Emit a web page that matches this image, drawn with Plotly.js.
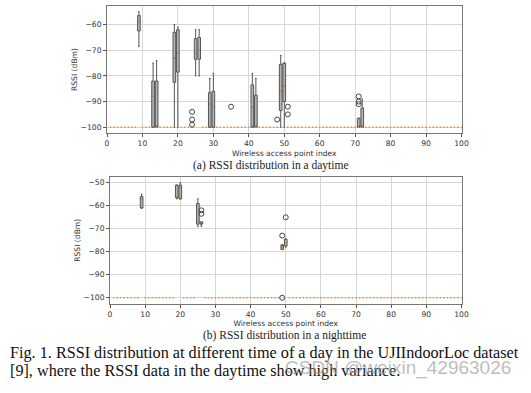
<!DOCTYPE html>
<html>
<head>
<meta charset="utf-8">
<script src="https://cdn.plot.ly/plotly-3.0.1.min.js"></script>
<style>html,body{margin:0;padding:0;background:#fff;}#chart{width:531px;height:393px;}</style>
</head>
<body>
<div id="chart"></div>
<script>
// ---- Data ----
// Wireless access point indices shown on the x axis (box positions)
const wapIndex = Array.from({length: 100}, (_, i) => i + 1);
const flatMedian = -100; // every WAP without a drawn box sits at -100 dBm

// (a) daytime: WAPs with visible spread
const dayPos   = [9, 13, 14, 19, 20, 25, 26, 29, 30, 41, 42, 49, 50, 71, 72];
const dayQ1    = [-62.5, -100, -100, -82.5, -78.5, -73.5, -73.5, -100, -100, -100, -100, -93.5, -90, -100, -100];
const dayMed   = [-59, -88, -100, -73, -71, -71, -70, -91, -92, -92, -100, -86, -84, -100, -100];
const dayQ3    = [-56.5, -82, -82, -63, -62, -65.5, -65, -86.5, -86, -83.5, -87.5, -75.5, -75, -96.5, -92.5];
const dayLow   = [-68.5, -100, -100, -100, -100, -80, -80, -100, -100, -100, -100, -100, -100, -100, -100];
const dayHigh  = [-55, -75, -74, -60, -61, -62, -62, -81, -79, -79, -81, -72, -75, -96.5, -89];
const dayOutX  = [24, 24, 24, 35, 48, 51, 51, 71, 71, 71];
const dayOutY  = [-94, -97, -99, -92, -97, -92, -95, -88, -90, -91];

// (b) nighttime
const nightPos  = [9, 19, 20, 25, 26, 49, 50];
const nightQ1   = [-61, -56.5, -57, -68, -68, -79, -77.5];
const nightMed  = [-57, -56, -52, -66.5, -67, -78, -76];
const nightQ3   = [-56, -51, -51, -59, -67, -77, -74.5];
const nightLow  = [-61, -57, -57, -69, -69, -79, -78];
const nightHigh = [-55, -51, -50, -57, -67, -77, -74.5];
const nightOutX = [26, 26, 49, 49, 50];
const nightOutY = [-62, -63.5, -73, -100, -65];

const xTicks = [0, 10, 20, 30, 40, 50, 60, 70, 80, 90, 100];

// ---- Build traces ----
function allMedians(pos, med) {
  return wapIndex.map(w => { const k = pos.indexOf(w); return k >= 0 ? med[k] : flatMedian; });
}
const ORANGE = '#f58a2e';
const BOXLINE = '#555';
function boxTrace(pos, q1, med, q3, lo, hi, xa, ya) {
  return {type: 'box', x: pos, q1: q1, median: med, q3: q3, lowerfence: lo, upperfence: hi,
    xaxis: xa, yaxis: ya, width: 0.75, whiskerwidth: 0.6, boxpoints: false,
    line: {color: BOXLINE, width: 1}, fillcolor: '#b5b5b5', hoverinfo: 'skip', showlegend: false};
}
function medianTrace(pos, med, xa, ya) {
  const m = allMedians(pos, med);
  return {type: 'box', x: wapIndex, q1: m, median: m, q3: m, lowerfence: m, upperfence: m,
    xaxis: xa, yaxis: ya, width: 0.3, whiskerwidth: 0, boxpoints: false,
    line: {color: ORANGE, width: 1}, fillcolor: 'rgba(0,0,0,0)', hoverinfo: 'skip', showlegend: false};
}
function outlierTrace(x, y, xa, ya) {
  return {type: 'scatter', mode: 'markers', x: x, y: y, xaxis: xa, yaxis: ya,
    marker: {symbol: 'circle-open', size: 5, color: '#444', line: {width: 1, color: '#444'}},
    hoverinfo: 'skip', showlegend: false};
}

const data = [
  boxTrace(dayPos, dayQ1, dayMed, dayQ3, dayLow, dayHigh, 'x', 'y'),
  medianTrace(dayPos, dayMed, 'x', 'y'),
  outlierTrace(dayOutX, dayOutY, 'x', 'y'),
  boxTrace(nightPos, nightQ1, nightMed, nightQ3, nightLow, nightHigh, 'x2', 'y2'),
  medianTrace(nightPos, nightMed, 'x2', 'y2'),
  outlierTrace(nightOutX, nightOutY, 'x2', 'y2')
];

const tickFont = {family: 'DejaVu Sans', size: 7.6, color: '#333'};
function xAxis(domain, anchor) {
  return {domain: domain, anchor: anchor, range: [0, 100], tickmode: 'array', tickvals: xTicks,
    ticks: 'outside', ticklen: 3, tickcolor: '#555', tickfont: tickFont,
    showgrid: true, gridcolor: '#d6d6d6', gridwidth: 1, zeroline: false,
    showline: true, mirror: true, linecolor: '#777', linewidth: 1,
    title: {text: 'Wireless access point index', font: tickFont, standoff: 3}};
}
function yAxis(domain, anchor, range, vals) {
  return {domain: domain, anchor: anchor, range: range, tickmode: 'array', tickvals: vals,
    ticks: 'outside', ticklen: 3, tickcolor: '#555', tickfont: tickFont,
    showgrid: true, gridcolor: '#d6d6d6', gridwidth: 1, zeroline: false,
    showline: true, mirror: true, linecolor: '#777', linewidth: 1,
    title: {text: 'RSSI (dBm)', font: tickFont, standoff: 1}};
}

const W = 531, H = 393;
const layout = {
  width: W, height: H, margin: {l: 0, r: 0, t: 0, b: 0},
  paper_bgcolor: '#fff', plot_bgcolor: '#fff', boxmode: 'overlay', showlegend: false,
  xaxis: xAxis([107 / W, 461.5 / W], 'y'),
  yaxis: yAxis([1 - 133 / H, 1 - 6 / H], 'x', [-102.25, -52.75], [-100, -90, -80, -70, -60]),
  xaxis2: xAxis([110 / W, 461.5 / W], 'y2'),
  yaxis2: yAxis([1 - 303.5 / H, 1 - 177 / H], 'x2', [-102.5, -47.5], [-100, -90, -80, -70, -60, -50]),
  annotations: [
    {text: '(a) RSSI distribution in a daytime', xref: 'paper', yref: 'paper', x: 271 / W, y: 1 - 165.5 / H,
      xanchor: 'center', yanchor: 'middle', showarrow: false, font: {family: 'Liberation Serif', size: 11.5, color: '#222'}},
    {text: '(b) RSSI distribution in a nighttime', xref: 'paper', yref: 'paper', x: 284 / W, y: 1 - 335 / H,
      xanchor: 'center', yanchor: 'middle', showarrow: false, font: {family: 'Liberation Serif', size: 11.5, color: '#222'}},
    {text: 'Fig. 1. RSSI distribution at different time of a day in the UJIIndoorLoc dataset', xref: 'paper', yref: 'paper',
      x: 8 / W, y: 1 - 353 / H, xanchor: 'left', yanchor: 'middle', showarrow: false,
      font: {family: 'Liberation Serif', size: 16.2, color: '#111'}},
    {text: '[9], where the RSSI data in the daytime show high variance.', xref: 'paper', yref: 'paper',
      x: 8 / W, y: 1 - 371 / H, xanchor: 'left', yanchor: 'middle', showarrow: false,
      font: {family: 'Liberation Serif', size: 16.2, color: '#111'}},
    {text: 'CSDN @weixin_42963026', xref: 'paper', yref: 'paper',
      x: 283 / W, y: 1 - 368 / H, xanchor: 'left', yanchor: 'middle', showarrow: false,
      font: {family: 'Liberation Sans', size: 19, color: 'rgba(160,160,160,0.7)'}}
  ]
};

Plotly.newPlot('chart', data, layout, {staticPlot: true, displayModeBar: false});
</script>
</body>
</html>
